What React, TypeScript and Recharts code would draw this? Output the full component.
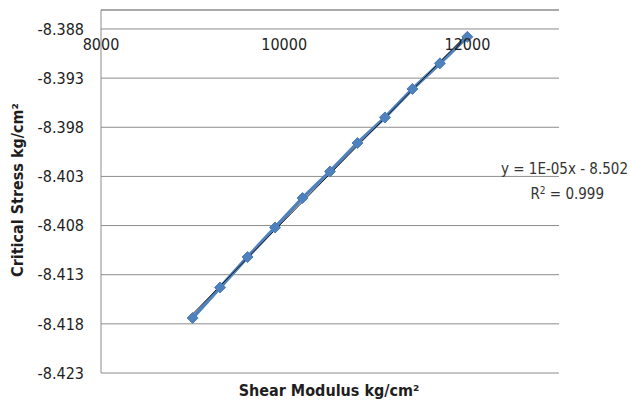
import React from 'react'
import { LineChart, Line, XAxis, YAxis, CartesianGrid, ReferenceLine } from 'recharts'

// Shear modulus (kg/cm²) vs critical stress (kg/cm²)
const shearModulus = [9000, 9300, 9600, 9900, 10200, 10500, 10800, 11100, 11400, 11700, 12000]
const criticalStress = [
  -8.4174, -8.4143, -8.4112, -8.4082, -8.4052, -8.4025, -8.3996, -8.397, -8.3941, -8.3915, -8.3888,
]

// linear trendline end points
const trendX = [9000, 12000]
const trendY = [-8.417, -8.3885]

const xTicks = [8000, 10000, 12000]
const yTicks = [-8.388, -8.393, -8.398, -8.403, -8.408, -8.413, -8.418, -8.423]

const Y_TOP = -8.38607
const FONT = "'DejaVu Sans Condensed', 'Liberation Sans', Arial, sans-serif"
const BLUE = '#4F81BD'
const GRID = '#8c8c8c'

const data = shearModulus.map((x, i) => ({ x, stress: criticalStress[i] }))
const trend = trendX.map((x, i) => ({ x, fit: trendY[i] }))

const Diamond = (props: any) => {
  const { cx, cy } = props
  if (cx == null || cy == null) return null
  const r = 5.5
  return (
    <polygon
      points={`${cx},${cy - r} ${cx + r},${cy} ${cx},${cy + r} ${cx - r},${cy}`}
      fill={BLUE}
      stroke="#4A7EBB"
      strokeWidth={1}
    />
  )
}

// Excel draws the category labels just under the -8.388 line
const XTick = (props: any) => {
  const { x, payload } = props
  return (
    <text x={x} y={50} textAnchor="middle" fontFamily={FONT} fontSize={16} fill="#1e1e1e">
      {payload.value}
    </text>
  )
}

const App: React.FC = () => {
  return (
    <div style={{ position: 'absolute', left: 0, top: 0, width: 631, height: 403, background: '#fff' }}>
      <LineChart width={631} height={403} data={data} margin={{ top: 10, right: 72, bottom: 0, left: 0 }}>
        <CartesianGrid vertical={false} stroke={GRID} />
        <XAxis
          dataKey="x"
          type="number"
          domain={[8000, 13000]}
          ticks={xTicks}
          height={30}
          axisLine={false}
          tickLine={false}
          tick={<XTick />}
          interval={0}
          allowDataOverflow
        />
        <YAxis
          type="number"
          domain={[-8.423, Y_TOP]}
          ticks={yTicks}
          width={101}
          axisLine={{ stroke: GRID }}
          tickLine={false}
          tickSize={0}
          tickMargin={17}
          tick={{ fontFamily: FONT, fontSize: 16, fill: '#1e1e1e' }}
          tickFormatter={(v: number) => v.toFixed(3)}
          interval={0}
          allowDataOverflow
        />
        <ReferenceLine y={Y_TOP} stroke={GRID} />
        <Line
          dataKey="stress"
          stroke={BLUE}
          strokeWidth={3.5}
          dot={<Diamond />}
          activeDot={false}
          isAnimationActive={false}
        />
        <Line
          data={trend}
          dataKey="fit"
          stroke="#1a1a1a"
          strokeWidth={1}
          dot={false}
          activeDot={false}
          isAnimationActive={false}
        />
      </LineChart>
      <div
        style={{
          position: 'absolute',
          left: 17,
          top: 190,
          transform: 'translate(-50%, -50%) rotate(-90deg)',
          whiteSpace: 'nowrap',
          fontFamily: FONT,
          fontWeight: 'bold',
          fontSize: 16,
          color: '#1e1e1e',
        }}
      >
        Critical Stress kg/cm²
      </div>
      <div
        style={{
          position: 'absolute',
          left: 329,
          top: 390,
          transform: 'translate(-50%, -50%)',
          whiteSpace: 'nowrap',
          fontFamily: FONT,
          fontWeight: 'bold',
          fontSize: 16,
          color: '#1e1e1e',
        }}
      >
        Shear Modulus kg/cm²
      </div>
      <div
        style={{
          position: 'absolute',
          right: 3,
          top: 158,
          whiteSpace: 'nowrap',
          fontFamily: FONT,
          fontSize: 15,
          color: '#333',
          lineHeight: '22px',
          textAlign: 'right',
        }}
      >
        <div>y = 1E-05x - 8.502</div>
        <div style={{ paddingRight: 24 }}>
          R<sup style={{ fontSize: 10, verticalAlign: 5 }}>2</sup> = 0.999
        </div>
      </div>
    </div>
  )
}

export default App
